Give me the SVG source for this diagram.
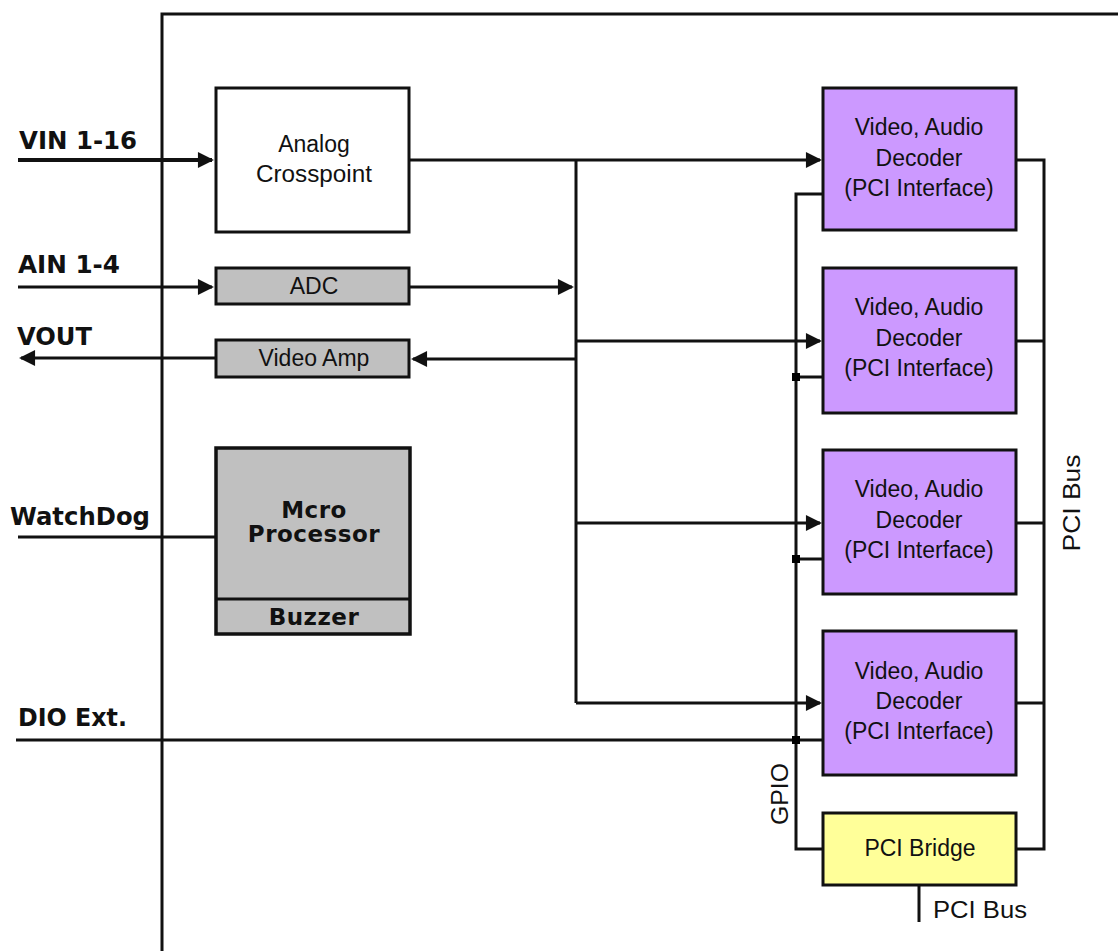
<svg xmlns="http://www.w3.org/2000/svg" width="1118" height="951" viewBox="0 0 1118 951">
<defs>
<style>
.box{stroke:#111;stroke-width:3;}
.white{fill:#ffffff;}
.gray{fill:#c0c0c0;}
.violet{fill:#cc99ff;}
.yellow{fill:#ffff99;}
.wire{fill:none;stroke:#111;stroke-width:3;stroke-linejoin:miter;}
.thick{stroke-width:4;}
.arr{marker-end:url(#ah);}
.dot{fill:#000;}
.lbl{font-family:"DejaVu Sans","Liberation Sans",sans-serif;font-weight:bold;font-size:24px;fill:#111;}
.nt{font-family:"Liberation Sans",Arial,sans-serif;font-size:23px;fill:#111;text-anchor:middle;}
.bt{font-family:"DejaVu Sans","Liberation Sans",sans-serif;font-weight:bold;font-size:23px;fill:#111;text-anchor:middle;letter-spacing:0.5px;}
.side{font-family:"Liberation Sans",Arial,sans-serif;font-size:24px;fill:#111;}
</style>
<marker id="ah" viewBox="0 0 10 10" refX="8.8" refY="5" markerUnits="userSpaceOnUse" markerWidth="17" markerHeight="16" orient="auto">
<path d="M0,0 L10,5 L0,10 z" fill="#111"/>
</marker>
</defs>
<rect width="1118" height="951" fill="#ffffff"/>

<g id="enclosure">
<path class="wire" d="M162,951 V14 H1118"/>
</g>

<g id="connectors">
<path class="wire thick arr" d="M18,160 H212"/>
<path class="wire arr" d="M18,287 H212"/>
<path class="wire arr" d="M216,358 H21"/>
<path class="wire arr" d="M409,160 H820"/>
<path class="wire arr" d="M409,287 H572"/>
<path class="wire arr" d="M576,359 H413"/>
<path class="wire" d="M576,160 V703"/>
<path class="wire arr" d="M576,341 H820"/>
<path class="wire arr" d="M576,523 H820"/>
<path class="wire arr" d="M576,703 H820"/>
<path class="wire" d="M18,537 H216"/>
<path class="wire" d="M16,740 H823"/>
<path class="wire" d="M823,194 H796 V849 H823"/>
<path class="wire" d="M796,377 H823"/>
<path class="wire" d="M796,559 H823"/>
<rect class="dot" x="792" y="373" width="8" height="8"/>
<rect class="dot" x="792" y="555" width="8" height="8"/>
<rect class="dot" x="792" y="736" width="8" height="8"/>
<path class="wire" d="M1016,160 H1044 V849 H1016"/>
<path class="wire" d="M1016,341 H1044"/>
<path class="wire" d="M1016,523 H1044"/>
<path class="wire" d="M1016,703 H1044"/>
<path class="wire" d="M919,885 V922"/>
</g>

<g id="labels">
<text class="lbl" x="19" y="149" textLength="118" lengthAdjust="spacingAndGlyphs">VIN 1-16</text>
<text class="lbl" x="18" y="273" textLength="102" lengthAdjust="spacingAndGlyphs">AIN 1-4</text>
<text class="lbl" x="17" y="345" textLength="75" lengthAdjust="spacingAndGlyphs">VOUT</text>
<text class="lbl" x="10" y="525" textLength="140" lengthAdjust="spacingAndGlyphs">WatchDog</text>
<text class="lbl" x="18" y="726" textLength="109" lengthAdjust="spacingAndGlyphs">DIO Ext.</text>
<text class="side" transform="translate(788,794) rotate(-90)" text-anchor="middle" textLength="62" lengthAdjust="spacingAndGlyphs">GPIO</text>
<text class="side" transform="translate(1080,503) rotate(-90)" text-anchor="middle" textLength="97" lengthAdjust="spacingAndGlyphs">PCI Bus</text>
<text class="side" x="933" y="918" textLength="94" lengthAdjust="spacingAndGlyphs">PCI Bus</text>
</g>

<g id="analog-crosspoint">
<rect class="box white" x="216" y="88" width="193" height="144"/>
<text class="nt" x="314" y="152">Analog</text>
<text class="nt" x="314" y="182" textLength="116" lengthAdjust="spacingAndGlyphs">Crosspoint</text>
</g>

<g id="adc">
<rect class="box gray" x="216" y="268" width="193" height="36"/>
<text class="nt" x="314" y="294">ADC</text>
</g>

<g id="video-amp">
<rect class="box gray" x="216" y="340" width="193" height="37"/>
<text class="nt" x="314" y="366">Video Amp</text>
</g>

<g id="micro-processor">
<rect class="box gray" x="216" y="448" width="194" height="186" style="stroke-width:3.5"/>
<line x1="216" y1="599" x2="410" y2="599" stroke="#111" stroke-width="3"/>
<text class="bt" x="314" y="518">Mcro</text>
<text class="bt" x="314" y="542">Processor</text>
<text class="bt" x="314" y="625">Buzzer</text>
</g>

<g id="decoder-1">
<rect class="box violet" x="823" y="88" width="193" height="142"/>
<text class="nt" x="919" y="135">Video, Audio</text>
<text class="nt" x="919" y="166">Decoder</text>
<text class="nt" x="919" y="196">(PCI Interface)</text>
</g>

<g id="decoder-2">
<rect class="box violet" x="823" y="268" width="193" height="145"/>
<text class="nt" x="919" y="315">Video, Audio</text>
<text class="nt" x="919" y="346">Decoder</text>
<text class="nt" x="919" y="376">(PCI Interface)</text>
</g>

<g id="decoder-3">
<rect class="box violet" x="823" y="450" width="193" height="144"/>
<text class="nt" x="919" y="497">Video, Audio</text>
<text class="nt" x="919" y="528">Decoder</text>
<text class="nt" x="919" y="558">(PCI Interface)</text>
</g>

<g id="decoder-4">
<rect class="box violet" x="823" y="631" width="193" height="144"/>
<text class="nt" x="919" y="679">Video, Audio</text>
<text class="nt" x="919" y="709">Decoder</text>
<text class="nt" x="919" y="739">(PCI Interface)</text>
</g>

<g id="pci-bridge">
<rect class="box yellow" x="823" y="813" width="193" height="72"/>
<text class="nt" x="920" y="856">PCI Bridge</text>
</g>
</svg>
